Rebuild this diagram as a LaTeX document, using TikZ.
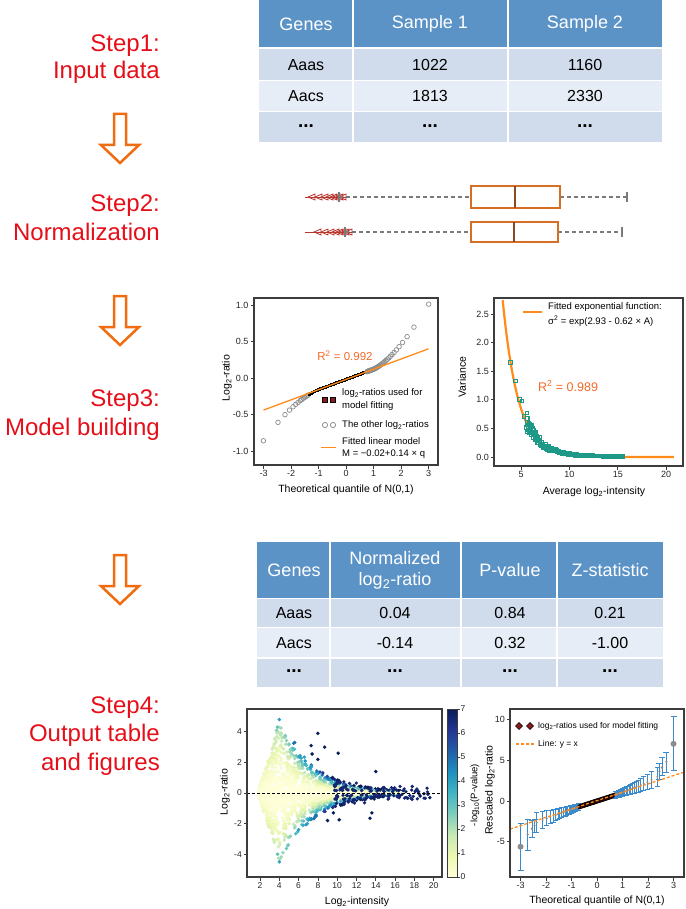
\documentclass[tikz,border=0pt]{standalone}
\usepackage{fontspec}
\setmainfont{Liberation Sans}
\usetikzlibrary{shapes.geometric}
\definecolor{stepred}{HTML}{E60F19}
\definecolor{arroworange}{HTML}{EF6C10}
\definecolor{hdrblue}{HTML}{5C93C7}
\definecolor{rowdark}{HTML}{D0DCEB}
\definecolor{rowlight}{HTML}{E6EDF6}
\definecolor{fitorange}{HTML}{FF8C1A}
\definecolor{r2orange}{HTML}{F26B2A}
\definecolor{boxorange}{HTML}{D66F24}
\definecolor{medbrown}{HTML}{8A4A22}
\definecolor{whiskgrey}{HTML}{7A7A7A}
\definecolor{outred}{HTML}{B8362E}
\definecolor{vteal}{HTML}{1E9987}
\definecolor{ebblue}{HTML}{3B8ACB}
\definecolor{framegrey}{HTML}{3C3C3C}
\definecolor{ptgrey}{HTML}{8C8C8C}
\definecolor{fitred}{HTML}{8B1A1A}
\definecolor{y0}{HTML}{FFFFD9}
\definecolor{y1}{HTML}{EDF8B1}
\definecolor{y2}{HTML}{C7E9B4}
\definecolor{y3}{HTML}{7FCDBB}
\definecolor{y4}{HTML}{41B6C4}
\definecolor{y5}{HTML}{1D91C0}
\definecolor{y6}{HTML}{225EA8}
\definecolor{y7}{HTML}{253494}
\definecolor{y8}{HTML}{081D58}
\pgfdeclareverticalshading{ylgnbu}{100bp}{color(0bp)=(y0); color(25bp)=(y0); color(31.25bp)=(y1); color(37.5bp)=(y2); color(43.75bp)=(y3); color(50bp)=(y4); color(56.25bp)=(y5); color(62.5bp)=(y6); color(68.75bp)=(y7); color(75bp)=(y8); color(100bp)=(y8)}
\newcommand\setptc[1]{%
  \pgfmathsetmacro\myt{max(0,min(7,#1))*8/7}%
  \pgfmathtruncatemacro\myia{min(7,floor(\myt))}%
  \pgfmathtruncatemacro\myib{\myia+1}%
  \pgfmathtruncatemacro\mypp{round((\myt-\myia)*100)}%
  \colorlet{ptc}{y\myib!\mypp!y\myia}%
}
\tikzset{
  steplbl/.style={text=stepred, font=\fontsize{24}{29}\selectfont, anchor=base east, inner sep=0pt},
  hdr/.style={text=white, font=\fontsize{18}{21}\selectfont, inner sep=0pt},
  cell/.style={font=\fontsize{16}{19}\selectfont, inner sep=0pt},
  dots/.style={font=\fontsize{19}{19}\selectfont\bfseries, inner sep=0pt},
  hollowarrow/.style={draw=arroworange, line width=2.5pt, fill=white, line join=miter, miter limit=10},
  frame/.style={draw=framegrey, line width=1.2pt},
  tickmark/.style={draw=framegrey, line width=0.8pt},
  ticklbl/.style={font=\fontsize{9}{10}\selectfont, text=black!85, inner sep=0pt},
  axlbl/.style={font=\fontsize{10.5}{12}\selectfont, inner sep=0pt},
  leg/.style={font=\fontsize{9.5}{11}\selectfont, anchor=west, inner sep=0pt},
  whisk/.style={draw=whiskgrey, line width=2.2pt, dash pattern=on 4pt off 3pt},
  wcap/.style={draw=whiskgrey, line width=2.2pt},
  boxst/.style={draw=boxorange, line width=2.4pt},
  medst/.style={draw=medbrown, line width=2.2pt},
  outl/.style={draw=outred, line width=0.8pt},
}
\begin{document}
\begin{tikzpicture}[x=1pt,y=-1pt]
\useasboundingbox[fill=white] (0,0) rectangle (685,909);

% ---------------- step labels ----------------
\node[steplbl] (s1a) at (160,51.6) {Step1:};
\node[steplbl] (s1b) at (160,78.6) {Input data};
\node[steplbl] (s2a) at (160,211.6) {Step2:};
\node[steplbl] (s2b) at (160,240.6) {Normalization};
\node[steplbl] (s3a) at (160,406.6) {Step3:};
\node[steplbl] (s3b) at (160,435.6) {Model building};
\node[steplbl] (s4a) at (160,713.6) {Step4:};
\node[steplbl] (s4b) at (160,741.6) {Output table};
\node[steplbl] (s4c) at (160,770.6) {and figures};

% ---------------- hollow arrows ----------------
\foreach \t in {114,296,555}{
  \draw[hollowarrow] (114,\t) -- (126,\t) -- (126,\t+31) -- (139,\t+31) -- (120,\t+49) -- (101,\t+31) -- (114,\t+31) -- cycle;
}

% ---------------- table 1 ----------------
\fill[hdrblue] (259,0) rectangle (662,47.5);
\fill[rowdark] (259,49.5) rectangle (662,80);
\fill[rowlight] (259,80) rectangle (662,111.5);
\fill[rowdark] (259,111.5) rectangle (662,142);
\draw[white, line width=1.5pt] (259,80.3)--(662,80.3) (259,111.6)--(662,111.6) (353,0)--(353,142) (508,0)--(508,142);
\node[hdr] (t1h1) at (306,24) {Genes};
\node[hdr] (t1h2) at (430,24) {Sample 1};
\node[hdr] (t1h3) at (585,24) {Sample 2};
\node[cell] (t1a1) at (306,65) {Aaas};
\node[cell] (t1a2) at (430,65) {1022};
\node[cell] (t1a3) at (585,65) {1160};
\node[cell] (t1b1) at (306,96) {Aacs};
\node[cell] (t1b2) at (430,96) {1813};
\node[cell] (t1b3) at (585,96) {2330};
\node[dots] (t1c1) at (306,126) {...};
\node[dots] (t1c2) at (430,126) {...};
\node[dots] (t1c3) at (585,126) {...};

% ---------------- boxplots ----------------
\foreach \yy/\lc/\bl/\br/\md/\rc/\bh in {197/339/471/560/515/627/11, 232/345/471/558/514/622/10}{
  \draw[outl] (305,\yy) -- (\lc+8,\yy);
  \foreach \ox in {308,315,321,326,330,333,336,339}{
    \draw[outl] (\ox+\lc-339,\yy) -- (\ox+\lc-332,\yy-3) -- (\ox+\lc-332,\yy+3) -- cycle;
  }
  \draw[whisk] (\lc,\yy) -- (\bl,\yy);
  \draw[whisk] (\br,\yy) -- (\rc,\yy);
  \draw[wcap] (\lc,\yy-5) -- (\lc,\yy+5);
  \draw[wcap] (\rc,\yy-5) -- (\rc,\yy+5);
  \draw[boxst] (\bl,\yy-\bh) rectangle (\br,\yy+\bh);
  \draw[medst] (\md,\yy-\bh) -- (\md,\yy+\bh);
}

% ---------------- QQ plot (step 3, left) ----------------
\draw[frame] (254,298) rectangle (438,465);
\foreach \q in {-3,...,3}{
  \draw[tickmark] (346+27.5*\q,465) -- (346+27.5*\q,468.5);
  \node[ticklbl, anchor=north] (qa\q) at (346+27.5*\q,470.5) {\q};
}
\foreach \m/\lab in {-1/-1.0,-0.5/-0.5,0/0.0,0.5/0.5,1/1.0}{
  \draw[tickmark] (254,378-73*\m) -- (250.5,378-73*\m);
  \node[ticklbl, anchor=east] (qb\lab) at (248.5,378-73*\m) {\lab};
}
\node[axlbl] (qaxx) at (346,490) {Theoretical quantile of N(0,1)};
\node[axlbl, rotate=90] (qaxy) at (227,378) {Log\textsubscript{2}-ratio};
\foreach \k in {1,...,240}{
  \pgfmathsetmacro\pv{(\k-0.5)/240}
  \pgfmathsetmacro\qv{ln(\pv/(1-\pv))/2.05}
  \pgfmathsetmacro\mv{-0.02+0.14*\qv+0.2*exp(1.6*ln(max(\qv-1,0.0001)))-0.12*exp(1.8*ln(max(-\qv-1,0.0001)))}
  \pgfmathsetmacro\px{346+27.5*\qv}
  \pgfmathsetmacro\py{378-73*\mv}
  \pgfmathtruncatemacro\isfit{(\qv>-1.35)*(\qv<0.75)}
  \ifnum\isfit=1
    \fill[black] (\px-1.4,\py-1.4) rectangle (\px+1.4,\py+1.4);
  \else
    \draw[ptgrey, line width=0.7pt] (\px,\py) circle[radius=2.3];
  \fi
}
\draw[fitorange, line width=1.3pt] (263.5,410.1) -- (428.5,348.8);
\node[font=\fontsize{11.5}{13}\selectfont, text=r2orange, inner sep=0pt] (qr2) at (345,356) {R\textsuperscript{2} = 0.992};
\filldraw[fill=fitred, draw=black, line width=0.5pt] (322.5,397.5) rectangle (327.5,402.5);
\filldraw[fill=fitred, draw=black, line width=0.5pt] (330.5,397.5) rectangle (335.5,402.5);
\node[leg] (ql1) at (342,393) {log\textsubscript{2}-ratios used for};
\node[leg] (ql2) at (342,406) {model fitting};
\draw[ptgrey, line width=0.8pt] (325,425) circle[radius=2.6] (333,425) circle[radius=2.6];
\node[leg] (ql3) at (342,425) {The other log\textsubscript{2}-ratios};
\draw[fitorange, line width=1.3pt] (321,447.5) -- (336,447.5);
\node[leg] (ql4) at (342,441) {Fitted linear model};
\node[leg] (ql5) at (342,454) {M = −0.02+0.14 × q};

% ---------------- Variance plot (step 3, right) ----------------
\draw[frame] (494,298) rectangle (683,466);
\foreach \a in {5,10,15,20}{
  \draw[tickmark] (472.7+9.67*\a,466) -- (472.7+9.67*\a,469.5);
  \node[ticklbl, anchor=north] (va\a) at (472.7+9.67*\a,471.5) {\a};
}
\foreach \v/\lab in {0/0.0,0.5/0.5,1/1.0,1.5/1.5,2/2.0,2.5/2.5}{
  \draw[tickmark] (494,457-57.2*\v) -- (490.5,457-57.2*\v);
  \node[ticklbl, anchor=east] (vb\lab) at (489,457-57.2*\v) {\lab};
}
\node[axlbl] (vaxx) at (594,492) {Average log\textsubscript{2}-intensity};
\node[axlbl, rotate=90] (vaxy) at (462,377) {Variance};
\draw[fitorange, line width=2.2pt] plot[domain=3.1:20.8, samples=120] ({472.7+9.67*\x},{457-57.2*exp(2.93-0.62*\x)});
\pgfmathsetseed{11}
\foreach \a/\v in {3.9/1.65,4.4/1.33,4.8/1.01,5.1/0.98,5.3/0.71,5.55/0.52,5.8/0.53,6.0/0.47,6.1/0.40,6.3/0.42,6.45/0.33,6.6/0.36}{
  \draw[vteal, line width=0.9pt] (472.7+9.67*\a-1.9,457-57.2*\v-1.9) rectangle (472.7+9.67*\a+1.9,457-57.2*\v+1.9);
}
\foreach \k in {1,...,130}{
  \pgfmathsetmacro\fr{\k/130}
  \pgfmathsetmacro\av{5.6+9.9*\fr*sqrt(\fr)}
  \pgfmathsetmacro\vv{exp(2.93-0.62*\av)*(0.75+0.6*rnd)+0.012}
  \pgfmathsetmacro\px{472.7+9.67*\av}
  \pgfmathsetmacro\py{457-57.2*\vv}
  \draw[vteal, line width=0.9pt] (\px-1.9,\py-1.9) rectangle (\px+1.9,\py+1.9);
}
\draw[fitorange, line width=2pt] (523,312) -- (542,312);
\node[leg] (vl1) at (548,307) {Fitted exponential function:};
\node[leg] (vl2) at (548,321) {σ\textsuperscript{2} = exp(2.93 - 0.62 × A)};
\node[font=\fontsize{12.5}{14}\selectfont, text=r2orange, inner sep=0pt] (vr2) at (568,386) {R\textsuperscript{2} = 0.989};

% ---------------- table 2 ----------------
\fill[hdrblue] (257,542) rectangle (663,598);
\fill[rowdark] (257,599) rectangle (663,627.5);
\fill[rowlight] (257,627.5) rectangle (663,658);
\fill[rowdark] (257,658) rectangle (663,687);
\draw[white, line width=1.5pt] (257,627.7)--(663,627.7) (257,658.2)--(663,658.2) (330,542)--(330,687) (461,542)--(461,687) (557,542)--(557,687);
\node[hdr] (t2h1) at (294,570) {Genes};
\node[hdr] (t2h2a) at (395,558) {Normalized};
\node[hdr] (t2h2b) at (395,581) {log\textsubscript{2}-ratio};
\node[hdr] (t2h3) at (510,570) {P-value};
\node[hdr] (t2h4) at (610,570) {Z-statistic};
\node[cell] (t2a1) at (294,613) {Aaas};
\node[cell] (t2a2) at (395,613) {0.04};
\node[cell] (t2a3) at (510,613) {0.84};
\node[cell] (t2a4) at (610,613) {0.21};
\node[cell] (t2b1) at (294,643) {Aacs};
\node[cell] (t2b2) at (395,643) {-0.14};
\node[cell] (t2b3) at (510,643) {0.32};
\node[cell] (t2b4) at (610,643) {-1.00};
\node[dots] (t2c1) at (294,671) {...};
\node[dots] (t2c2) at (395,671) {...};
\node[dots] (t2c3) at (510,671) {...};
\node[dots] (t2c4) at (610,671) {...};

% ---------------- MA plot ----------------
\begin{scope}
\clip (247,709) rectangle (442,877);
\pgfmathsetseed{42}
\foreach \k in {1,...,2200}{
  \pgfmathsetmacro\ra{rnd}
  \pgfmathsetmacro\Aval{1.85+15*\ra*(0.35+0.65*\ra)}
  \pgfmathsetmacro\sv{min(2.0*(\Aval-1.75),4.5*exp(-0.27*(\Aval-4)))}
  \pgfmathsetmacro\uv{2*rnd-1}
  \pgfmathsetmacro\Mv{\sv*(0.4*\uv+0.6*\uv*\uv*\uv)}
  \setptc{\uv*\uv*\uv*\uv*(1.3+0.9*(\Aval-3))}
  \fill[ptc] (240.7+9.65*\Aval,793-15.3*\Mv) circle[radius=1.9];
}
\foreach \k in {1,...,130}{
  \pgfmathsetmacro\ra{rnd}
  \pgfmathsetmacro\rb{rnd}
  \pgfmathsetmacro\rc{rnd}
  \pgfmathsetmacro\Aval{9.7+9.8*\ra*(0.3+0.7*\ra)}
  \pgfmathsetmacro\Mv{(2*(\rc>0.5)-1)*(0.16+0.8*\rb*\rb)*exp(-0.09*(\Aval-9.7))}
  \fill[y8!60!y7] (240.7+9.65*\Aval,793-15.3*\Mv) circle[radius=1.8];
}
\foreach \a/\m/\c in {4/4.8/4,3.8/4.3/3,3.7/4.1/2.5,5.6/3.3/5,5.5/3.25/5,6.1/2.35/4,6.6/2.35/4,7.3/3.1/7,7.4/2.55/7,8.0/3.9/7,8.7/3.0/7,8.0/2.2/7,7.3/1.75/4,6.8/1.8/3.5,10.1/2.6/7,14.0/1.4/7,4/-4.5/4,3.8/-4.0/3,6.0/-2.4/4,6.9/-2.0/4,9.0/-1.8/7,10.2/-1.75/7,13.4/-1.65/7,13.6/-1.3/7,9.6/-1.3/7,19.6/-0.3/7,19.0/-0.05/7,18.6/-0.2/7}{
  \setptc{\c}
  \fill[ptc] (240.7+9.65*\a,793-15.3*\m) circle[radius=1.9];
}
\draw[black, line width=1pt, dash pattern=on 3pt off 2pt] (247,793) -- (442,793);
\end{scope}
\draw[frame] (247,709) rectangle (442,877);
\foreach \a in {2,4,...,20}{
  \draw[tickmark] (240.7+9.65*\a,877) -- (240.7+9.65*\a,880.5);
  \node[ticklbl, anchor=north, font=\fontsize{8.5}{10}\selectfont] (ma\a) at (240.7+9.65*\a,882) {\a};
}
\foreach \m in {-4,-2,0,2,4}{
  \draw[tickmark] (247,793-15.3*\m) -- (243.5,793-15.3*\m);
  \node[ticklbl, anchor=east, font=\fontsize{8.5}{10}\selectfont] (mb\m) at (242,793-15.3*\m) {\m};
}
\node[axlbl] (maxx) at (357,902) {Log\textsubscript{2}-intensity};
\node[axlbl, rotate=90] (maxy) at (225,792) {Log\textsubscript{2}-ratio};
% colorbar
\shade[shading=ylgnbu] (447,709) rectangle (457,877);
\draw[framegrey, line width=1pt] (447,709) rectangle (457,877);
\foreach \v in {0,...,7}{
  \draw[tickmark] (457,877-24*\v) -- (460,877-24*\v);
  \node[ticklbl, anchor=west, font=\fontsize{8.5}{10}\selectfont] (cb\v) at (460.5,877-24*\v) {\v};
}
\node[axlbl, rotate=90, font=\fontsize{9.5}{11}\selectfont] (cbl) at (475,795) {-log\textsubscript{10}(P-value)};

% ---------------- rescaled QQ plot ----------------
\begin{scope}
\clip (510,709) rectangle (684,877);
\foreach \k in {3,...,98}{
  \pgfmathsetmacro\pv{(\k-0.5)/100}
  \pgfmathsetmacro\qv{ln(\pv/(1-\pv))/1.55}
  \pgfmathsetmacro\rv{\qv+(\qv>0)*0.045*\qv*\qv*\qv+(\qv<0)*0.02*\qv*\qv*\qv}
  \pgfmathsetmacro\hv{0.3+0.16*\qv*\qv}
  \pgfmathsetmacro\px{597+25.5*\qv}
  \pgfmathsetmacro\py{801-8.17*\rv}
  \pgfmathsetmacro\ph{8.17*\hv}
  \pgfmathtruncatemacro\isfit{abs(\qv)<0.7}
  \ifnum\isfit=1
    \filldraw[fill=fitred, draw=black, line width=0.5pt] (\px,\py-2.4) -- (\px+2.4,\py) -- (\px,\py+2.4) -- (\px-2.4,\py) -- cycle;
  \else
    \draw[ebblue, line width=0.9pt] (\px,\py-\ph) -- (\px,\py+\ph) (\px-2.5,\py-\ph) -- (\px+2.5,\py-\ph) (\px-2.5,\py+\ph) -- (\px+2.5,\py+\ph);
    \fill[ptgrey] (\px,\py) circle[radius=1.1];
  \fi
}
\foreach \qv/\rv/\lo/\hi/\rad in {-3.0/-5.6/-8.5/-2.7/3,-2.72/-4.1/-6.1/-2.3/1.3,-2.55/-3.4/-4.5/-2.35/1.3,-2.45/-3.0/-3.9/-2.2/1.2,2.45/3.6/2.6/4.6/1.2,2.55/4.1/3.1/5.3/1.3,2.72/4.8/3.5/5.9/1.3,3.0/7.0/3.7/10.3/3}{
  \draw[ebblue, line width=0.9pt] (597+25.5*\qv,801-8.17*\lo) -- (597+25.5*\qv,801-8.17*\hi)
     (597+25.5*\qv-3,801-8.17*\lo) -- (597+25.5*\qv+3,801-8.17*\lo)
     (597+25.5*\qv-3,801-8.17*\hi) -- (597+25.5*\qv+3,801-8.17*\hi);
  \fill[ptgrey] (597+25.5*\qv,801-8.17*\rv) circle[radius=\rad];
}
\draw[fitorange, line width=1.3pt, dash pattern=on 3pt off 2pt] (510,829.1) -- (684,772.1);
\end{scope}
\draw[frame] (510,709) rectangle (684,877);
\foreach \q in {-3,...,3}{
  \draw[tickmark] (597+25.5*\q,877) -- (597+25.5*\q,880.5);
  \node[ticklbl, anchor=north] (ra\q) at (597+25.5*\q,882) {\q};
}
\foreach \r in {-5,0,5,10}{
  \draw[tickmark] (510,801-8.17*\r) -- (506.5,801-8.17*\r);
  \node[ticklbl, anchor=east] (rb\r) at (505,801-8.17*\r) {\r};
}
\node[axlbl] (raxx) at (597,901) {Theoretical quantile of N(0,1)};
\node[axlbl, rotate=90] (raxy) at (490,790) {Rescaled log\textsubscript{2}-ratio};
\filldraw[fill=fitred, draw=black, line width=0.6pt] (519,722.5) -- (522.5,726) -- (519,729.5) -- (515.5,726) -- cycle;
\filldraw[fill=fitred, draw=black, line width=0.6pt] (530,722.5) -- (533.5,726) -- (530,729.5) -- (526.5,726) -- cycle;
\node[leg, font=\fontsize{8.5}{10}\selectfont] (rl1) at (538,726) {log\textsubscript{2}-ratios used for model fitting};
\draw[fitorange, line width=1.3pt, dash pattern=on 3pt off 2pt] (516,744) -- (535,744);
\node[leg, font=\fontsize{8.5}{10}\selectfont] (rl2) at (538,744) {Line: y = x};
\end{tikzpicture}
\end{document}
